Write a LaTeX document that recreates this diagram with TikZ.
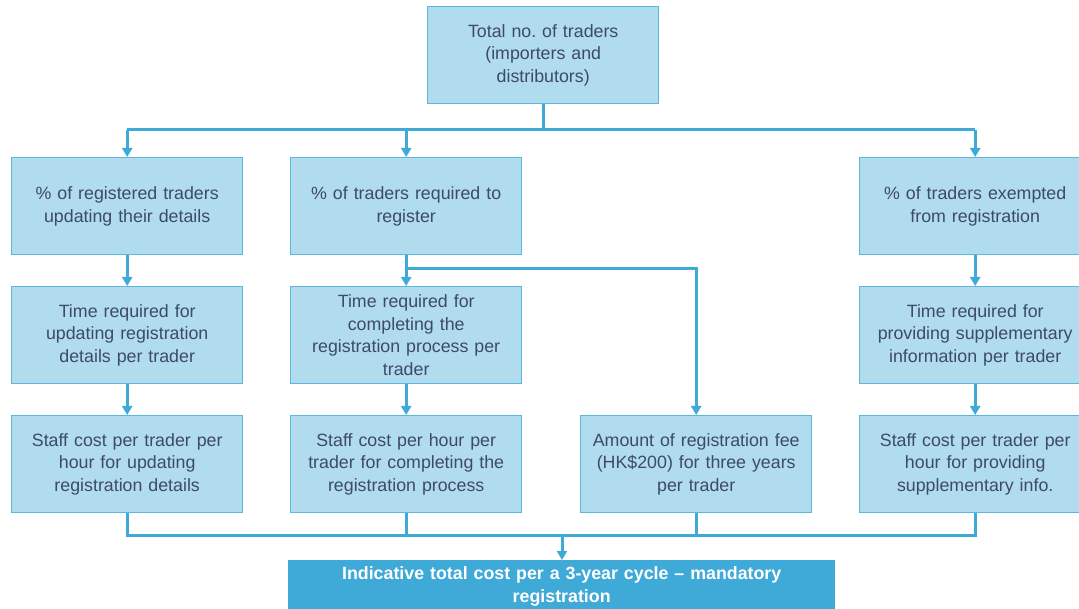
\documentclass[tikz,border=0pt]{standalone}
\usepackage{fontspec}
\setmainfont{Liberation Sans}
\usetikzlibrary{arrows.meta}
\frenchspacing
\definecolor{boxfill}{HTML}{B1DCEE}
\definecolor{boxline}{HTML}{5BB6E0}
\definecolor{conn}{HTML}{3FA9D8}
\definecolor{txt}{HTML}{3D4A68}
\definecolor{darkbox}{HTML}{3FA9D8}
\begin{document}
\begin{tikzpicture}[x=1pt,y=-1pt,
  box/.style={draw=boxline,line width=1.4pt,fill=boxfill,minimum width=231pt,minimum height=97pt,
    text width=226pt,align=center,text=txt,inner sep=0pt,
    font=\fontsize{17.8}{22.5}\selectfont},
  conn/.style={draw=conn,line width=3pt},
  arr/.style={conn,-{Triangle[length=9pt,width=10pt]}},
  finalbox/.style={fill=darkbox,minimum width=547pt,minimum height=52pt,text width=540pt,align=center,
    text=white,inner sep=0pt,font=\bfseries\fontsize{17.8}{22.5}\selectfont}]
\useasboundingbox (0,0) rectangle (1079,609);
\begin{scope}
\clip (0,0) rectangle (1079,609);
\node[box,anchor=north west] (top) at (427,6) {Total no. of traders\\(importers and\\distributors)};
\node[box,anchor=north west] (a1) at (11,157) {\% of registered traders\\updating their details};
\node[box,anchor=north west] (b1) at (290,157) {\% of traders required to\\register};
\node[box,anchor=north west] (d1) at (859,157) {\% of traders exempted\\from registration};
\node[box,anchor=north west] (a2) at (11,286) {Time required for\\updating registration\\details per trader};
\node[box,anchor=north west] (b2) at (290,286) {Time required for\\completing the\\registration process per\\trader};
\node[box,anchor=north west] (d2) at (859,286) {Time required for\\providing supplementary\\information per trader};
\node[box,anchor=north west] (a3) at (11,415) {Staff cost per trader per\\hour for updating\\registration details};
\node[box,anchor=north west] (b3) at (290,415) {Staff cost per hour per\\trader for completing the\\registration process};
\node[box,anchor=north west] (c3) at (580,415) {Amount of registration fee\\(HK\$200) for three years\\per trader};
\node[box,anchor=north west] (d3) at (859,415) {Staff cost per trader per\\hour for providing\\supplementary info.};
\node[finalbox,anchor=north west] (fin) at (288,560) {Indicative total cost per a 3-year cycle -- mandatory\\registration};

\coordinate (tl) at (0,130);
\coordinate (bl) at (0,535);
\coordinate (bj) at (0,269);

\draw[conn] (top.south) -- (top.south |- tl);
\draw[conn] (a1.north |- tl) -- (d1.north |- tl);
\draw[arr] (a1.north |- tl) -- (a1.north);
\draw[arr] (b1.north |- tl) -- (b1.north);
\draw[arr] (d1.north |- tl) -- (d1.north);
\draw[arr] (a1.south) -- (a2.north);
\draw[arr] (b1.south) -- (b2.north);
\draw[arr] (d1.south) -- (d2.north);
\draw[arr] (a2.south) -- (a3.north);
\draw[arr] (b2.south) -- (b3.north);
\draw[arr] (d2.south) -- (d3.north);
\draw[arr] (b1.south |- bj) -- (c3.north |- bj) -- (c3.north);
\draw[conn] (a3.south) -- (a3.south |- bl);
\draw[conn] (b3.south) -- (b3.south |- bl);
\draw[conn] (c3.south) -- (c3.south |- bl);
\draw[conn] (d3.south) -- (d3.south |- bl);
\draw[conn] ([xshift=-1.5pt]a3.south |- bl) -- ([xshift=1.5pt]d3.south |- bl);
\draw[arr] ([xshift=562pt]bl) -- ([xshift=562pt]bl |- fin.north);
\end{scope}
\end{tikzpicture}
\end{document}
